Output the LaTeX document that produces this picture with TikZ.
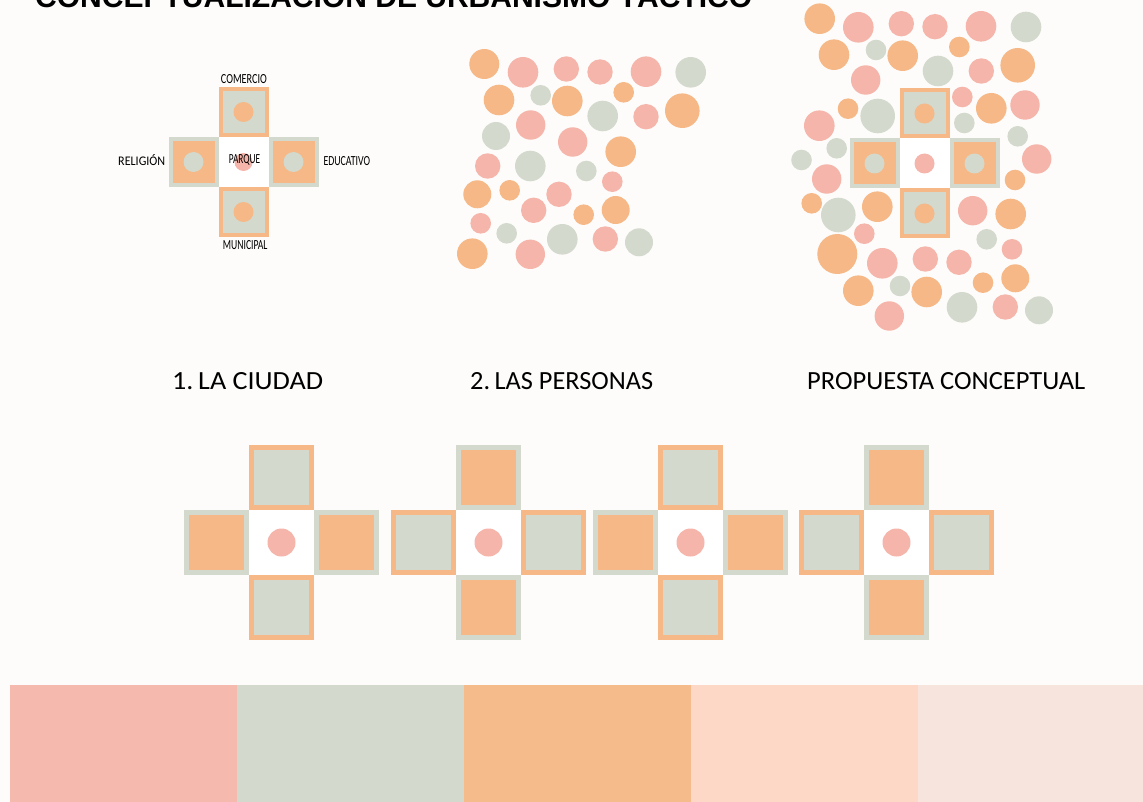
\documentclass[tikz,border=0pt]{standalone}
\usepackage{fontspec}
\setmainfont{Carlito}
\newfontfamily\titlefont{Liberation Sans}
\definecolor{cO}{HTML}{F6B886}
\definecolor{cP}{HTML}{F5B5AA}
\definecolor{cG}{HTML}{D3D9CC}
\definecolor{cBg}{HTML}{FDFCFA}
\definecolor{cPeach}{HTML}{FDD8C7}
\definecolor{cBlush}{HTML}{F7E5DD}
\definecolor{cBarP}{HTML}{F6B9AD}
\definecolor{cBarO}{HTML}{F6BB8A}
% cx cy size border outer inner
\newcommand\mytile[6]{%
  \fill[#5] ({#1-#3/2},{#2-#3/2}) rectangle ({#1+#3/2},{#2+#3/2});
  \fill[#6] ({#1-#3/2+#4},{#2-#3/2+#4}) rectangle ({#1+#3/2-#4},{#2+#3/2-#4});}
% cx cy size border rc  (type A: top/bottom orange frame, sides grey frame)
\newcommand\mycrossA[5]{%
  \mytile{#1}{#2-#3}{#3}{#4}{cO}{cG}\mytile{#1}{#2+#3}{#3}{#4}{cO}{cG}%
  \mytile{#1-#3}{#2}{#3}{#4}{cG}{cO}\mytile{#1+#3}{#2}{#3}{#4}{cG}{cO}%
  \fill[white] ({#1-#3/2},{#2-#3/2}) rectangle ({#1+#3/2},{#2+#3/2});
  \fill[cP] (#1,#2) circle[radius=#5 pt];}
\newcommand\mycrossB[5]{%
  \mytile{#1}{#2-#3}{#3}{#4}{cG}{cO}\mytile{#1}{#2+#3}{#3}{#4}{cG}{cO}%
  \mytile{#1-#3}{#2}{#3}{#4}{cO}{cG}\mytile{#1+#3}{#2}{#3}{#4}{cO}{cG}%
  \fill[white] ({#1-#3/2},{#2-#3/2}) rectangle ({#1+#3/2},{#2+#3/2});
  \fill[cP] (#1,#2) circle[radius=#5 pt];}
% small cross with inner circles: cx cy size border r rc
\newcommand\mycrossC[6]{%
  \mycrossA{#1}{#2}{#3}{#4}{#6}%
  \fill[cO] (#1,{#2-#3}) circle[radius=#5 pt];
  \fill[cO] (#1,{#2+#3}) circle[radius=#5 pt];
  \fill[cG] ({#1-#3},#2) circle[radius=#5 pt];
  \fill[cG] ({#1+#3},#2) circle[radius=#5 pt];}
\tikzset{lbl/.style={inner sep=0pt, anchor=south west, text=black}}
\begin{document}
\begin{tikzpicture}[x=1pt,y=-1pt]
\useasboundingbox (0,0) rectangle (1143,802);
\clip (0,0) rectangle (1143,802);
\fill[cBg] (0,0) rectangle (1143,802);

% title (cut off at the top edge, as in the reference)
\node[inner sep=0pt, anchor=base west] (title) at (35,7.5)
  {\resizebox{717pt}{!}{\titlefont\bfseries CONCEPTUALIZACIÓN DE URBANISMO TÁCTICO}};

% 1. la ciudad
\mycrossC{243.5}{162}{50}{4}{10}{9}
\node[lbl] (lcom) at (220.7,84) {\resizebox{46pt}{9pt}{COMERCIO}};
\node[lbl] (lrel) at (118,166) {\resizebox{47pt}{11pt}{RELIGIÓN}};
\node[lbl] (lpar) at (228.7,166) {\resizebox{31.3pt}{9pt}{PARQUE}};
\node[lbl] (ledu) at (323.3,166) {\resizebox{46.7pt}{9pt}{EDUCATIVO}};
\node[lbl] (lmun) at (222.7,250) {\resizebox{44.6pt}{9pt}{MUNICIPAL}};

% 2. las personas
\foreach \x/\y/\r/\c in {
484.3/64/15/cO, 523/72.3/15.3/cP, 566.3/69/12.7/cP, 600/72/12.7/cP, 646/71.7/15.3/cP, 690.7/72.3/15.3/cG,
499/100/15.3/cO, 540.7/95.3/10.3/cG, 567.3/101/15.3/cO, 623.7/92.3/10.3/cO, 602.7/116/15.3/cG, 646/116.7/12.7/cP,
682.3/110.7/17.3/cO, 496/136/14/cG, 530.7/125/14.7/cP, 572.7/142/14.7/cP, 620.7/151.7/15.3/cO,
487.7/166/12.7/cP, 530.3/166/15.3/cG, 586.3/171/10.3/cG, 612.3/181.7/10.3/cP,
477.3/194.3/14/cO, 509.7/190.3/10.3/cO, 559/194.3/12.7/cP, 533.7/210.3/12.7/cP, 583.7/214.7/10.3/cO,
615.7/210/14/cO, 480.7/223.3/10.3/cP, 506.7/233.3/10.3/cG, 562.3/239.3/15.3/cG, 605.3/239/12.7/cP,
639/242.3/14/cG, 472.3/253.7/15.3/cO, 530.3/254.3/14.7/cP}
  \fill[fill=\c] (\x,\y) circle[radius=\r pt];

% propuesta conceptual
\foreach \x/\y/\r/\c in {
819.7/18.7/15.3/cO, 858.3/27.3/15.3/cP, 901.3/23.7/12.7/cP, 935/26.7/12.7/cP, 981/26.3/15.3/cP, 1026/27/15.3/cG,
834/54.7/15.3/cO, 876/50/10.3/cG, 902.7/55.7/15.3/cO, 959.3/47/10.3/cO, 938/71/15.3/cG, 981.3/71/12.7/cP,
1017.7/65.3/17.3/cO, 865.7/80/14.7/cP, 848/108.7/10.3/cO, 877.7/116/17.3/cG, 962.3/97/10.3/cP,
991.3/108.3/15.3/cO, 1025/105/14.7/cP, 819.3/125.7/15.3/cP, 964.3/123/10.3/cG, 1017.7/136.3/10.3/cG,
836.7/148.3/10.3/cG, 801.5/160/10.3/cG, 1036.7/159/14.7/cP, 826.7/179/14.7/cP, 1015/180/10.3/cO,
811.7/203.3/10.3/cO, 838.3/215/17.3/cG, 877.3/206.7/15.3/cO, 972.7/210.7/14.7/cP, 1010.7/214/15.3/cO,
864.3/233.7/10.3/cP, 986.7/239.3/10.3/cG, 837.3/254/20/cO, 882.3/263.3/15.3/cP, 925.3/259/12.7/cP,
959/262.3/12.7/cP, 1012/249.3/10.3/cP, 858.3/290.7/15.3/cO, 900/286/10.3/cG, 926.7/292/15.3/cO,
983/282.7/10.3/cO, 1015.3/278.3/14/cO, 962/307.3/15.3/cG, 1005.3/307/12.7/cP, 1039/310.3/14/cG,
889.3/316/14.7/cP}
  \fill[fill=\c] (\x,\y) circle[radius=\r pt];
\mycrossC{924.5}{163.5}{50}{4}{10}{10}

% headings
\node[lbl] (h1) at (172,390) {\resizebox{151pt}{17pt}{1.\,LA CIUDAD}};
\node[lbl] (h2) at (470,390) {\resizebox{183pt}{17pt}{2.\,LAS PERSONAS}};
\node[lbl] (h3) at (807,390) {\resizebox{278pt}{17pt}{PROPUESTA CONCEPTUAL}};

% bottom crosses
\mycrossA{281.5}{542.5}{65}{5}{14}
\mycrossB{488.5}{542.5}{65}{5}{14}
\mycrossA{690.5}{542.5}{65}{5}{14}
\mycrossB{896.5}{542.5}{65}{5}{14}

% palette
\fill[cBarP] (10,685) rectangle (237,802);
\fill[cG] (237,685) rectangle (464,802);
\fill[cBarO] (464,685) rectangle (691,802);
\fill[cPeach] (691,685) rectangle (918,802);
\fill[cBlush] (918,685) rectangle (1143,802);
\end{tikzpicture}
\end{document}
